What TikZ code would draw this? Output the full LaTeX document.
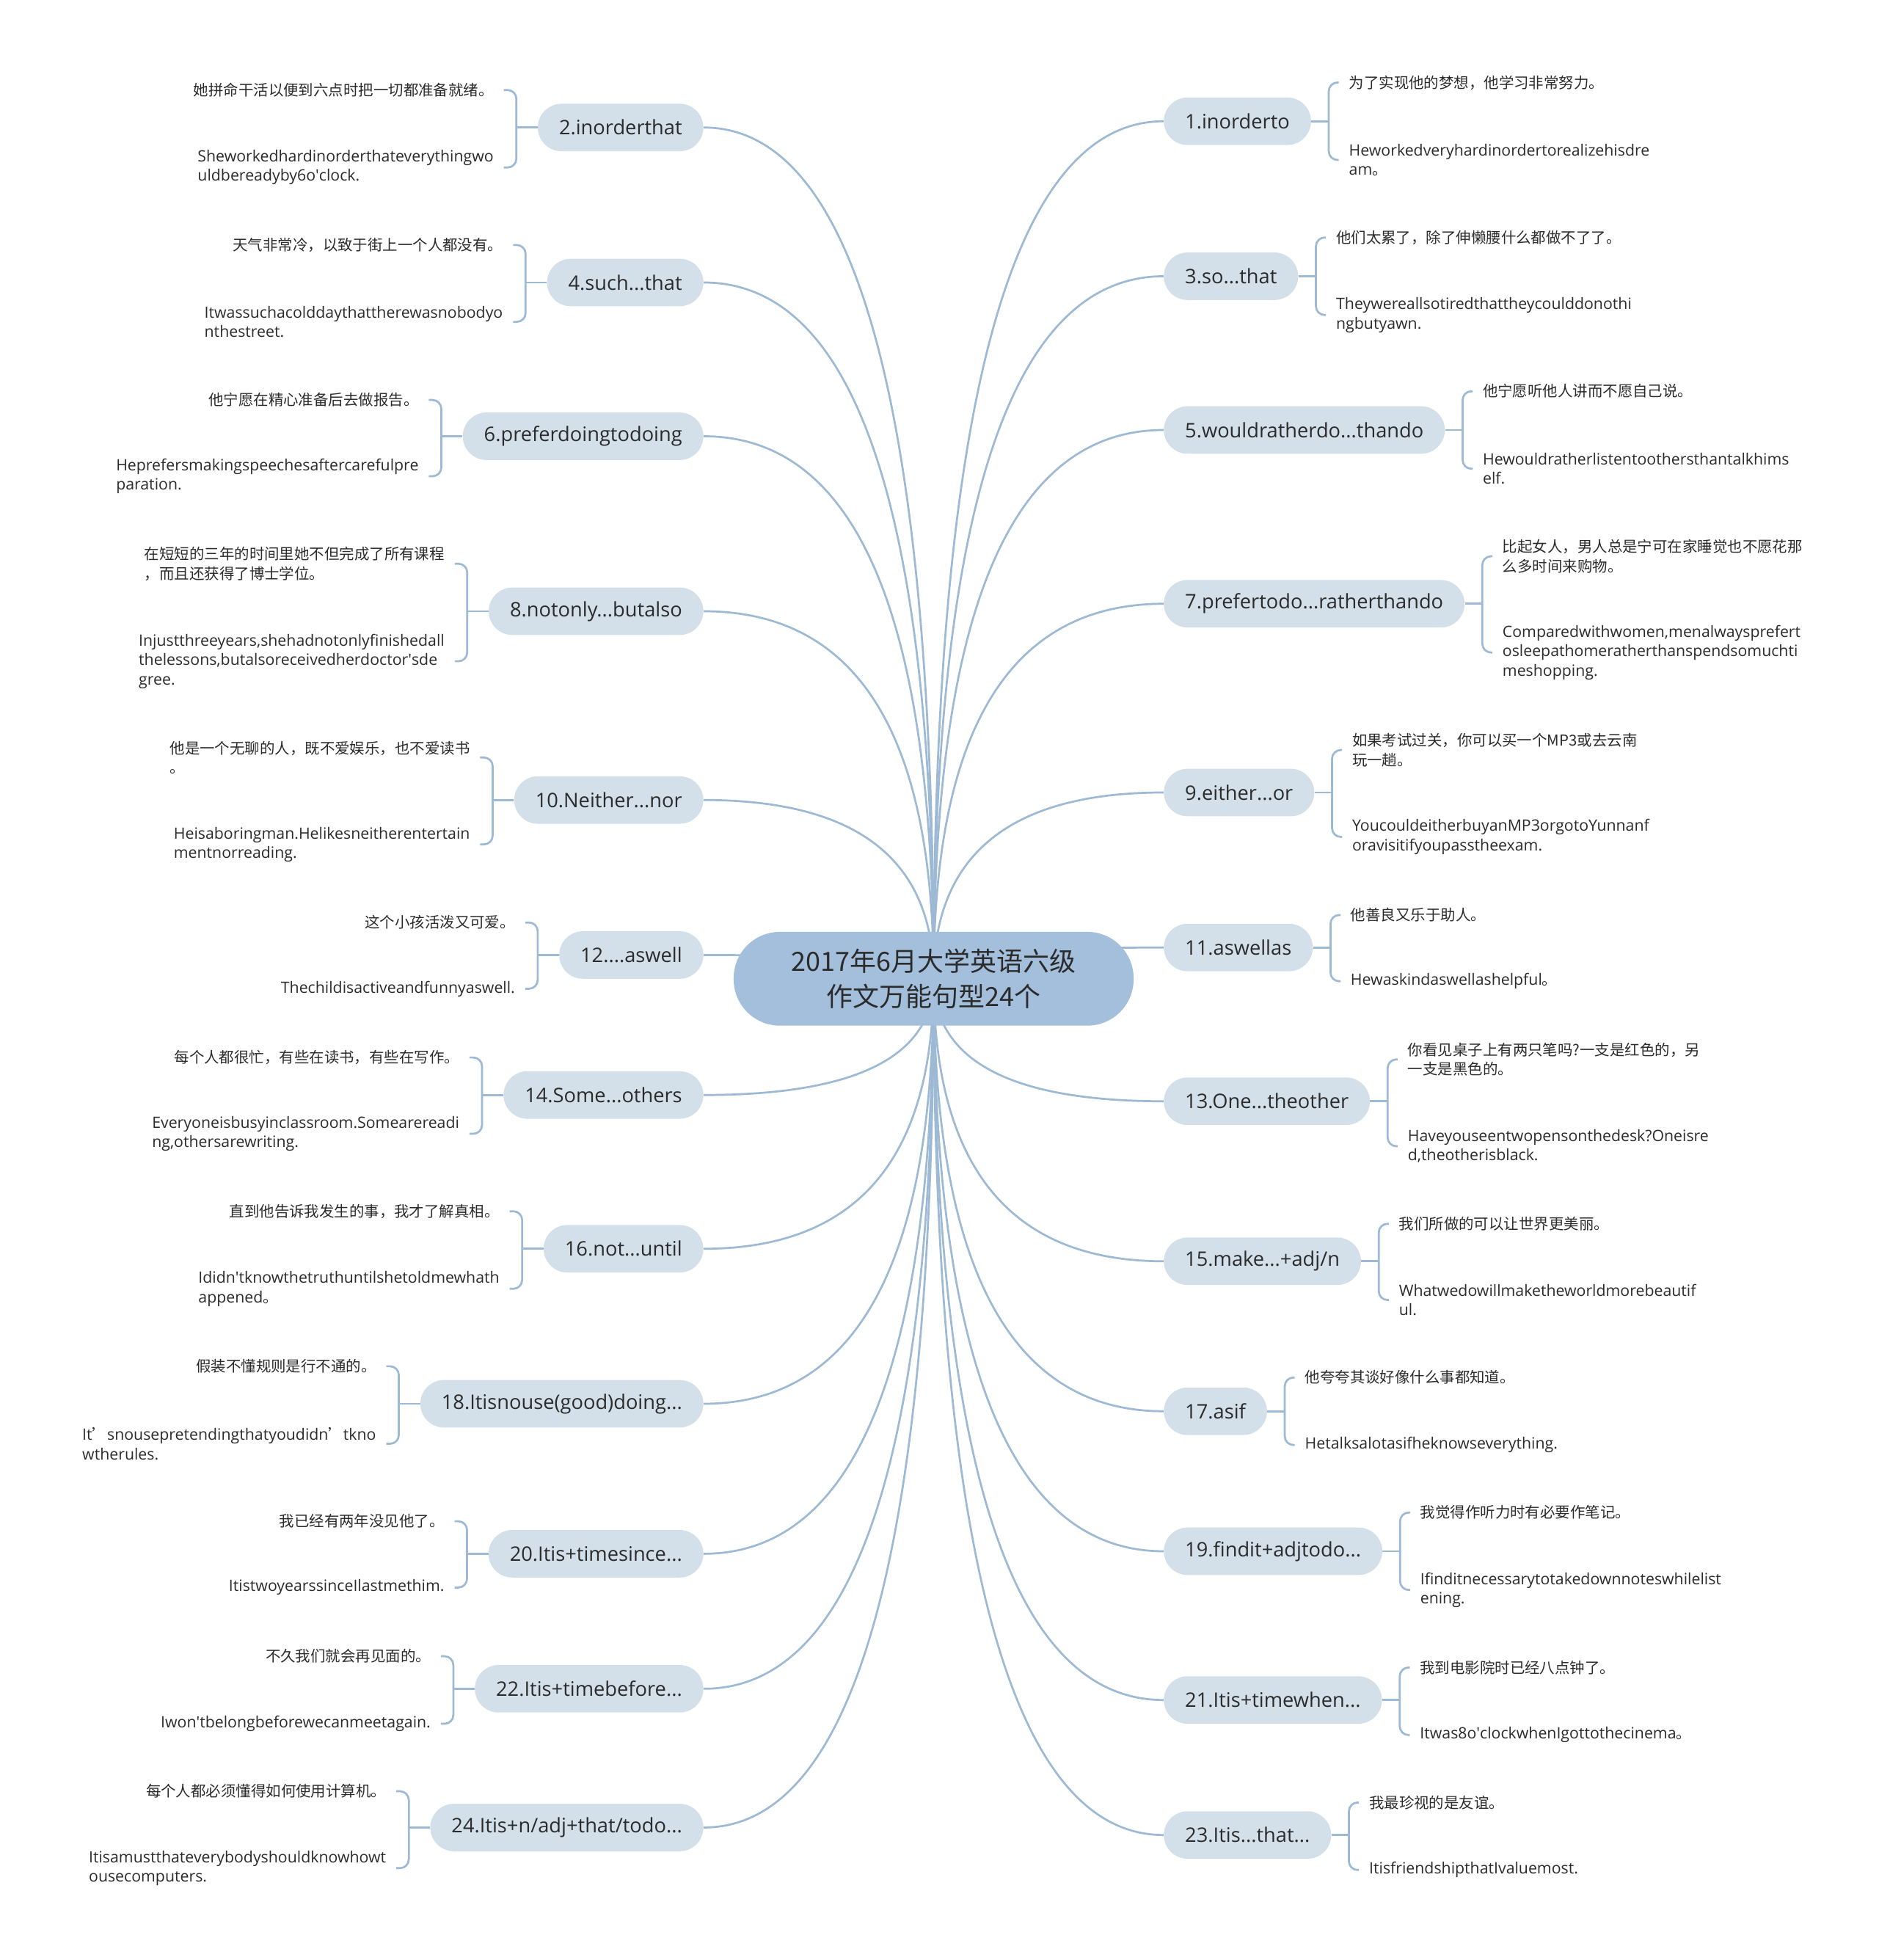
\documentclass[tikz,border=0pt]{standalone}
\usepackage{fontspec}
\setmainfont{Open Sans}
\newfontfamily\cjk[Scale=0.96]{Noto Sans CJK SC}
\usetikzlibrary{calc,positioning,backgrounds}
\definecolor{MapInk}{HTML}{2B2B2B}
\definecolor{MapRoot}{HTML}{A3BFDC}
\definecolor{MapTopic}{HTML}{D3E0EA}
\definecolor{MapLine}{HTML}{9DB9D3}

\begin{document}
\begin{tikzpicture}[
    x=1pt,y=-1pt,
    rootbox/.style={fill=MapRoot,text=MapInk,rounded corners=37pt,minimum width=320pt,minimum height=75pt,align=center,font=\cjk\fontsize{22}{28}\selectfont},
    topicbox/.style={fill=MapTopic,text=MapInk,rounded corners=19pt,minimum height=38pt,inner xsep=17pt,font=\fontsize{16}{19}\selectfont},
    leafbox/.style={text=MapInk,align=left,inner xsep=1pt,inner ysep=1pt,font=\fontsize{12.5}{15.5}\selectfont},
    leafR/.style={leafbox,anchor=west,xshift=29pt},
    leafL/.style={leafbox,anchor=east,xshift=-34pt},
    link/.style={draw=MapLine,line width=1.6pt}
  ]
  \useasboundingbox (0,0) rectangle (1503,1568);

  \node[rootbox] (root) at (747,783) {2017年6月大学英语六级\\作文万能句型24个};

  % right side
  \node[topicbox,anchor=west] (b1) at (931,97) {1.inorderto};
  \node[leafR] (c1) at (b1.east |- 0,66) {\cjk 为了实现他的梦想，他学习非常努力。};
  \node[leafR] (e1) at (b1.east |- 0,128) {Heworkedveryhardinordertorealizehisdre\\am{\cjk 。}};

  \node[topicbox,anchor=west] (b3) at (931,221) {3.so...that};
  \node[leafR] (c3) at (b3.east |- 0,190) {\cjk 他们太累了，除了伸懒腰什么都做不了了。};
  \node[leafR] (e3) at (b3.east |- 0,252) {Theywereallsotiredthattheycoulddonothi\\ngbutyawn.};

  \node[topicbox,anchor=west] (b5) at (931,344) {5.wouldratherdo...thando};
  \node[leafR] (c5) at (b5.east |- 0,313) {\cjk 他宁愿听他人讲而不愿自己说。};
  \node[leafR] (e5) at (b5.east |- 0,375) {Hewouldratherlistentoothersthantalkhims\\elf.};

  \node[topicbox,anchor=west] (b7) at (931,483) {7.prefertodo...ratherthando};
  \node[leafR] (c7) at (b7.east |- 0,445) {\cjk 比起女人，男人总是宁可在家睡觉也不愿花那\\\cjk 么多时间来购物。};
  \node[leafR] (e7) at (b7.east |- 0,522) {Comparedwithwomen,menalwaysprefert\\osleepathomeratherthanspendsomuchti\\meshopping.};

  \node[topicbox,anchor=west] (b9) at (931,634) {9.either...or};
  \node[leafR] (c9) at (b9.east |- 0,600) {\cjk 如果考试过关，你可以买一个MP3或去云南\\\cjk 玩一趟。};
  \node[leafR] (e9) at (b9.east |- 0,669.5) {YoucouldeitherbuyanMP3orgotoYunnanf\\oravisitifyoupasstheexam.};

  \node[topicbox,anchor=west] (b11) at (931,758) {11.aswellas};
  \node[leafR] (c11) at (b11.east |- 0,732) {\cjk 他善良又乐于助人。};
  \node[leafR] (e11) at (b11.east |- 0,785) {Hewaskindaswellashelpful{\cjk 。}};

  \node[topicbox,anchor=west] (b13) at (931,881) {13.One...theother};
  \node[leafR] (c13) at (b13.east |- 0,847.5) {\cjk 你看见桌子上有两只笔吗?一支是红色的，另\\\cjk 一支是黑色的。};
  \node[leafR] (e13) at (b13.east |- 0,917) {Haveyouseentwopensonthedesk?Oneisre\\d,theotherisblack.};

  \node[topicbox,anchor=west] (b15) at (931,1009) {15.make...+adj/n};
  \node[leafR] (c15) at (b15.east |- 0,979) {\cjk 我们所做的可以让世界更美丽。};
  \node[leafR] (e15) at (b15.east |- 0,1040) {Whatwedowillmaketheworldmorebeautif\\ul.};

  \node[topicbox,anchor=west] (b17) at (931,1129) {17.asif};
  \node[leafR] (c17) at (b17.east |- 0,1102) {\cjk 他夸夸其谈好像什么事都知道。};
  \node[leafR] (e17) at (b17.east |- 0,1156) {Hetalksalotasifheknowseverything.};

  \node[topicbox,anchor=west] (b19) at (931,1241) {19.findit+adjtodo...};
  \node[leafR] (c19) at (b19.east |- 0,1210) {\cjk 我觉得作听力时有必要作笔记。};
  \node[leafR] (e19) at (b19.east |- 0,1272) {Ifinditnecessarytotakedownnoteswhilelist\\ening.};

  \node[topicbox,anchor=west] (b21) at (931,1360) {21.Itis+timewhen...};
  \node[leafR] (c21) at (b21.east |- 0,1334) {\cjk 我到电影院时已经八点钟了。};
  \node[leafR] (e21) at (b21.east |- 0,1388) {Itwas8o\textquotesingle clockwhenIgottothecinema{\cjk 。}};

  \node[topicbox,anchor=west] (b23) at (931,1468) {23.Itis...that...};
  \node[leafR] (c23) at (b23.east |- 0,1442) {\cjk 我最珍视的是友谊。};
  \node[leafR] (e23) at (b23.east |- 0,1496) {ItisfriendshipthatIvaluemost.};

  % left side
  \node[topicbox,anchor=east] (b2) at (563,102) {2.inorderthat};
  \node[leafL] (c2) at (b2.west |- 0,72) {\cjk 她拼命干活以便到六点时把一切都准备就绪。};
  \node[leafL] (e2) at (b2.west |- 0,134) {Sheworkedhardinorderthateverythingwo\\uldbereadyby6o\textquotesingle clock.};

  \node[topicbox,anchor=east] (b4) at (563,226) {4.such...that};
  \node[leafL] (c4) at (b4.west |- 0,196) {\cjk 天气非常冷，以致于街上一个人都没有。};
  \node[leafL] (e4) at (b4.west |- 0,257.5) {Itwassuchacolddaythattherewasnobodyo\\nthestreet.};

  \node[topicbox,anchor=east] (b6) at (563,349) {6.preferdoingtodoing};
  \node[leafL] (c6) at (b6.west |- 0,320) {\cjk 他宁愿在精心准备后去做报告。};
  \node[leafL] (e6) at (b6.west |- 0,381) {Heprefersmakingspeechesaftercarefulpre\\paration.};

  \node[topicbox,anchor=east] (b8) at (563,489) {8.notonly...butalso};
  \node[leafL] (c8) at (b8.west |- 0,451) {\cjk 在短短的三年的时间里她不但完成了所有课程\\\cjk ，而且还获得了博士学位。};
  \node[leafL] (e8) at (b8.west |- 0,529) {Injustthreeyears,shehadnotonlyfinishedall\\thelessons,butalsoreceivedherdoctor\textquotesingle sde\\gree.};

  \node[topicbox,anchor=east] (b10) at (563,640) {10.Neither...nor};
  \node[leafL] (c10) at (b10.west |- 0,606) {\cjk 他是一个无聊的人，既不爱娱乐，也不爱读书\\\cjk 。};
  \node[leafL] (e10) at (b10.west |- 0,675.5) {Heisaboringman.Helikesneitherentertain\\mentnorreading.};

  \node[topicbox,anchor=east] (b12) at (563,764) {12....aswell};
  \node[leafL] (c12) at (b12.west |- 0,738) {\cjk 这个小孩活泼又可爱。};
  \node[leafL] (e12) at (b12.west |- 0,791) {Thechildisactiveandfunnyaswell.};

  \node[topicbox,anchor=east] (b14) at (563,876) {14.Some...others};
  \node[leafL] (c14) at (b14.west |- 0,846) {\cjk 每个人都很忙，有些在读书，有些在写作。};
  \node[leafL] (e14) at (b14.west |- 0,907) {Everyoneisbusyinclassroom.Somearereadi\\ng,othersarewriting.};

  \node[topicbox,anchor=east] (b16) at (563,999) {16.not...until};
  \node[leafL] (c16) at (b16.west |- 0,969) {\cjk 直到他告诉我发生的事，我才了解真相。};
  \node[leafL] (e16) at (b16.west |- 0,1031) {Ididn\textquotesingle tknowthetruthuntilshetoldmewhath\\appened{\cjk 。}};

  \node[topicbox,anchor=east] (b18) at (563,1123) {18.Itisnouse(good)doing...};
  \node[leafL] (c18) at (b18.west |- 0,1093) {\cjk 假装不懂规则是行不通的。};
  \node[leafL] (e18) at (b18.west |- 0,1155) {It{\cjk ’}snousepretendingthatyoudidn{\cjk ’}tkno\\wtherules.};

  \node[topicbox,anchor=east] (b20) at (563,1243) {20.Itis+timesince...};
  \node[leafL] (c20) at (b20.west |- 0,1217) {\cjk 我已经有两年没见他了。};
  \node[leafL] (e20) at (b20.west |- 0,1270) {ItistwoyearssinceIlastmethim.};

  \node[topicbox,anchor=east] (b22) at (563,1351) {22.Itis+timebefore...};
  \node[leafL] (c22) at (b22.west |- 0,1325) {\cjk 不久我们就会再见面的。};
  \node[leafL] (e22) at (b22.west |- 0,1379) {Iwon\textquotesingle tbelongbeforewecanmeetagain.};

  \node[topicbox,anchor=east] (b24) at (563,1462) {24.Itis+n/adj+that/todo...};
  \node[leafL] (c24) at (b24.west |- 0,1433) {\cjk 每个人都必须懂得如何使用计算机。};
  \node[leafL] (e24) at (b24.west |- 0,1494.5) {Itisamustthateverybodyshouldknowhowt\\ousecomputers.};

  % connectors
  \begin{scope}[on background layer]
    \foreach \i in {1,3,...,23}{
      \draw[link] (root.center) .. controls ($(root.center)!2/3!(root.center |- b\i.west)$) and ($(b\i.west)!2/3!(root.center |- b\i.west)$) .. (b\i.west);
      \draw[link] (b\i.east) -- ++(14pt,0) coordinate (k\i);
      \draw[link,rounded corners=7pt,shorten <=7pt,shorten >=7pt] (c\i.west) -| (k\i) |- (e\i.west);
    }
    \foreach \i in {2,4,...,24}{
      \draw[link] (root.center) .. controls ($(root.center)!2/3!(root.center |- b\i.east)$) and ($(b\i.east)!2/3!(root.center |- b\i.east)$) .. (b\i.east);
      \draw[link] (b\i.west) -- ++(-17pt,0) coordinate (k\i);
      \draw[link,rounded corners=7pt,shorten <=7pt,shorten >=7pt] (c\i.east) -| (k\i) |- (e\i.east);
    }
  \end{scope}
\end{tikzpicture}
\end{document}
